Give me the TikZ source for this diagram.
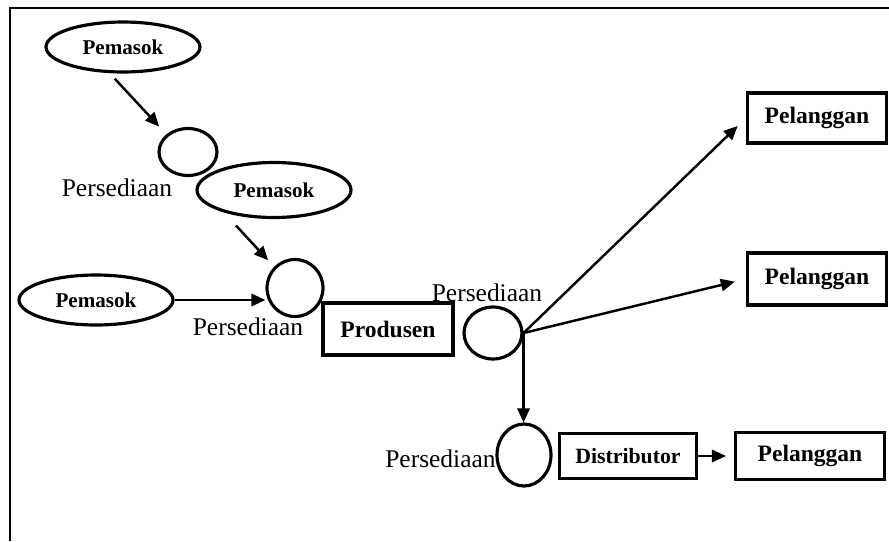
\documentclass[tikz,border=0pt]{standalone}
\usepackage{fontspec}
\setmainfont{Liberation Serif}
\usetikzlibrary{shapes.geometric,arrows.meta}

\begin{document}
\begin{tikzpicture}[x=0.02cm,y=-0.02cm,>={Triangle[length=8pt,width=7pt]},
        pemasok/.style={draw,ellipse,line width=1.8pt,inner sep=0pt,minimum width=3.08cm,minimum height=1cm,font=\bfseries\fontsize{12}{13}\selectfont},
        gudang/.style={draw,ellipse,line width=1.8pt,inner sep=0pt},
        kotak/.style={draw,rectangle,line width=1.8pt,inner sep=0pt,font=\bfseries\fontsize{13.4}{15}\selectfont},
        ket/.style={inner sep=0pt,font=\fontsize{14.5}{16}\selectfont},
        alir/.style={->,line width=1.4pt}]
        \useasboundingbox (0,0) rectangle (889,541);
        \draw[line width=1.4pt] (10,541) -- (10,8) -- (889,8);

        \node[pemasok] (pem1) at (123,47) {Pemasok};
        \node[pemasok,minimum height=1.1cm] (pem2) at (274,190) {Pemasok};
        \node[pemasok] (pem3) at (96,300) {Pemasok};

        \node[gudang,minimum width=1.16cm,minimum height=0.94cm] (per1) at (188,152) {};
        \node[gudang,minimum width=1.12cm,minimum height=1.14cm] (per2) at (295,288) {};
        \node[gudang,minimum width=1.16cm,minimum height=1.04cm] (per3) at (493,333) {};
        \node[gudang,minimum width=1.08cm,minimum height=1.24cm] (per4) at (524,455) {};

        \node[ket] (ket1) at (117,188) {Persediaan};
        \node[ket] (ket2) at (248,327) {Persediaan};
        \node[ket] (ket3) at (487,293) {Persediaan};
        \node[ket,anchor=east] (ket4) at (496,459) {Persediaan};

        \node[kotak,minimum width=2.6cm,minimum height=1.04cm] (prod) at (388,329) {Produsen};
        \node[kotak,minimum width=2.78cm,minimum height=1cm] (pel1) at (817,118) {Pelanggan};
        \node[kotak,minimum width=2.78cm,minimum height=1.04cm] (pel2) at (817,279) {Pelanggan};
        \node[kotak,minimum width=2.74cm,minimum height=0.9cm,font=\bfseries\fontsize{12.4}{14}\selectfont] (dist) at (628,456) {Distributor};
        \node[kotak,minimum width=2.98cm,minimum height=0.94cm] (pel3) at (810,456) {Pelanggan};

        \draw[alir,shorten <=4pt,shorten >=6pt] ([xshift=-13*0.02cm]pem1.south) -- (per1.north west);
        \draw[alir,shorten <=5pt,shorten >=5pt] ([xshift=-44*0.02cm]pem2.south) -- (per2.north west);
        \draw[alir] (pem3.east) -- (pem3.east -| per2.west);

        \draw[alir,shorten >=6.5pt] (per3.east) -- (pel1.west);
        \draw[alir,shorten >=6.5pt] (per3.east) -- (pel2.west);
        \draw[alir] (per3.east) -- (per3.east |- per4.north);
        \draw[alir,shorten >=4.5pt] (dist.east) -- (pel3.west);
\end{tikzpicture}
\end{document}
